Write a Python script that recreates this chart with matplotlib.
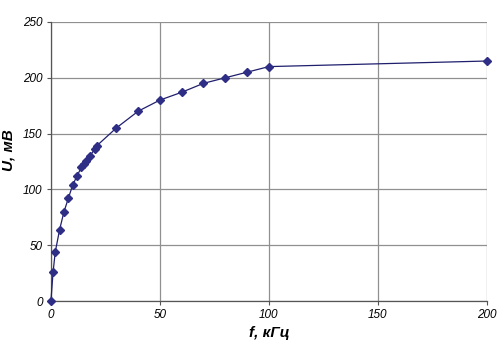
import matplotlib
matplotlib.use("Agg")
import matplotlib.pyplot as plt

f_khz = [0, 1, 2, 4, 6, 8, 10, 12, 14, 15, 16, 18, 20, 21, 30, 40, 50, 60, 70, 80, 90, 100, 200]
u_mv = [0, 26, 44, 64, 80, 92, 104, 112, 120, 123, 125, 130, 136, 139, 155, 170, 180, 187, 195, 200, 205, 210, 215]
x_ticks = [0, 50, 100, 150, 200]
y_ticks = [0, 50, 100, 150, 200, 250]

plt.rcParams['font.family'] = ['Liberation Sans', 'DejaVu Sans']

fig = plt.figure(figsize=(5.04, 3.43), dpi=100)
ax = fig.add_axes([0.101, 0.1224, 0.865, 0.8136])

ax.plot(f_khz, u_mv, color='#1f1f6e', lw=0.9, marker='D', ms=4.5,
        markerfacecolor='#2e2e86', markeredgecolor='#2e2e86', zorder=3, clip_on=False)

ax.set_xlim(0, 200)
ax.set_ylim(0, 250)
ax.set_xticks(x_ticks)
ax.set_yticks(y_ticks)
ax.grid(True, color='#909090', lw=0.9)
ax.set_axisbelow(True)
for s in ['top', 'right']:
    ax.spines[s].set_visible(False)
for s in ['left', 'bottom']:
    ax.spines[s].set_color('#555555')
    ax.spines[s].set_linewidth(0.9)
ax.tick_params(axis='both', length=3, color='#555555', labelsize=8.5, pad=3)
for lab in ax.get_xticklabels() + ax.get_yticklabels():
    lab.set_fontstyle('italic')

ax.set_xlabel('f, кГц', fontsize=11, fontweight='bold', fontstyle='italic', labelpad=3)
ax.set_ylabel('U, мВ', fontsize=11, fontweight='bold', fontstyle='italic')
ax.yaxis.set_label_coords(-0.082, 0.54)

fig.savefig('out.png', dpi=100)
